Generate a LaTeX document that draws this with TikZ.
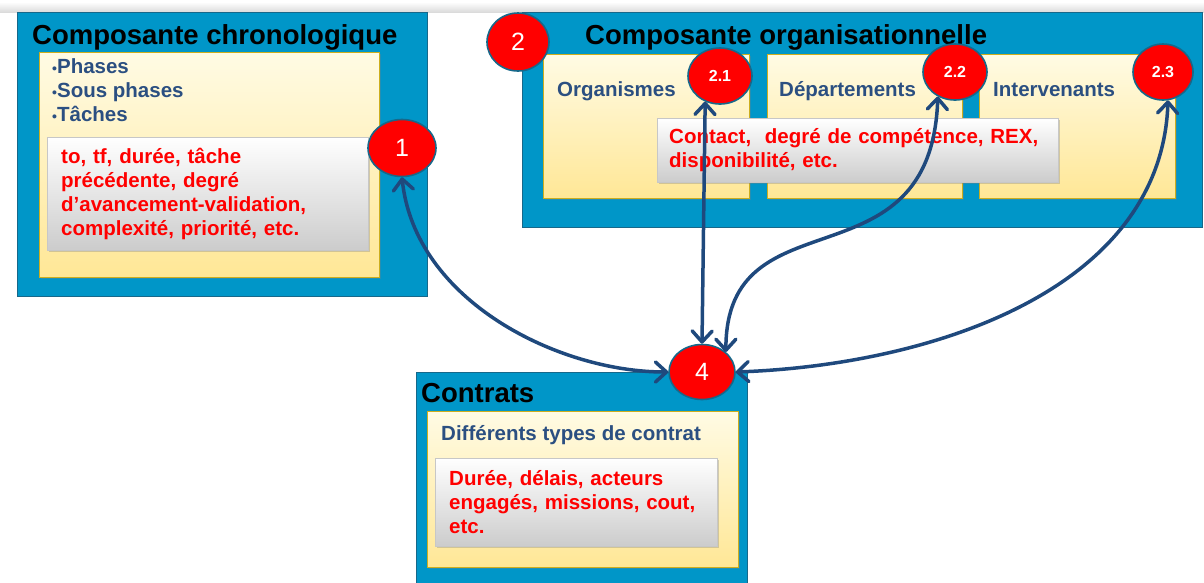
\documentclass[tikz,border=0pt]{standalone}
\usepackage{fontspec}
\setmainfont{Liberation Sans}
\usetikzlibrary{arrows.meta,shapes.geometric,shadows}
\definecolor{cPanel} {HTML}{0096C8}
\definecolor{cEdge}  {HTML}{17688A}
\definecolor{cCreamT}{HTML}{FFFBE4}
\definecolor{cCreamB}{HTML}{FFE796}
\definecolor{cGold}  {HTML}{CDAE1E}
\definecolor{cItem}  {HTML}{2B4F81}
\definecolor{cLink}  {HTML}{1F497D}
\definecolor{cAlert} {HTML}{FF0000}
\newcommand\txtfont{\fontsize{20.5}{24}\selectfont\bfseries}
\tikzset{
  panel/.style   ={draw=cEdge,fill=cPanel,line width=1.2pt,anchor=north west,inner sep=0pt},
  card/.style    ={draw=cGold,line width=1pt,top color=cCreamT,bottom color=cCreamB,
                   anchor=north west,inner sep=0pt,
                   drop shadow={shadow xshift=1.5pt,shadow yshift=-1.5pt,opacity=.3}},
  note/.style    ={draw=black!22,top color=white,bottom color=black!20,anchor=north west,
                   inner xsep=14pt,inner ysep=0pt,align=left,font=\txtfont,text=cAlert,
                   drop shadow={shadow xshift=2pt,shadow yshift=-2pt,opacity=.35}},
  badge/.style   ={ellipse,draw=cEdge,fill=cAlert,line width=1.6pt,text=white,inner sep=0pt,
                   font=\fontsize{25}{25}\selectfont},
  subbadge/.style={badge,font=\fontsize{16}{16}\selectfont\bfseries},
  ttl/.style     ={anchor=base west,inner sep=0pt,font=\fontsize{27.5}{30}\selectfont\bfseries},
  item/.style    ={anchor=base west,inner sep=0pt,font=\txtfont,text=cItem},
  link/.style    ={{Straight Barb[length=11pt,width=20pt,line width=3.5pt,round]}-%
                   {Straight Barb[length=11pt,width=20pt,line width=3.5pt,round]},
                   draw=cLink,line width=3.5pt},
}

\begin{document}
\begin{tikzpicture}[x=1pt, y=1pt]
\useasboundingbox (0,0) rectangle (1204,-582);
\shade[top color=white,bottom color=black!14] (0,-2) rectangle (1204,-12);

% ===== chronological component =============================================
\node[panel,minimum width=410pt,minimum height=284pt] (chrono) at (17,-12) {};
\node[ttl] (chronoT) at (32,-44) {Composante chronologique};
\node[card,minimum width=340pt,minimum height=225pt] (chronoC) at (39,-52) {};
\foreach \t [count=\i] in {Phases, Sous phases, Tâches}
  \node[item] (ph\i) at (52,{-73-24*(\i-1)}) {{\fontsize{14}{14}\selectfont•}\t};
\node[note,minimum width=321pt,minimum height=113pt,text width=293pt] (chronoN) at (47,-137)
  {to, tf, durée, tâche\\précédente, degré\\d’avancement-validation,\\complexité, priorité, etc.};
\node[badge,minimum width=68pt,minimum height=57pt] (c1) at (402,-148) {1};

% ===== organisational component ============================================
\node[panel,minimum width=680pt,minimum height=215pt] (orga) at (522,-12) {};
\node[ttl] (orgaT) at (585,-44) {Composante organisationnelle};
\node[card,minimum width=206pt,minimum height=144pt] (orgC1) at (543,-54) {};
\node[card,minimum width=195pt,minimum height=144pt] (orgC2) at (767,-54) {};
\node[card,minimum width=196pt,minimum height=144pt] (orgC3) at (979,-54) {};
\node[item] (org1) at (557,-96) {Organismes};
\node[item] (org2) at (779,-96) {Départements};
\node[item] (org3) at (993,-96) {Intervenants};
\node[note,inner xsep=12pt,minimum width=401pt,minimum height=64pt,text width=377pt] (orgaN) at (657,-118)
  {Contact,~ degré de compétence, REX,\\disponibilité, etc.};
\node[badge,minimum width=62pt,minimum height=58pt] (c2) at (518,-42) {2};
\node[subbadge,minimum width=64pt,minimum height=56pt] (c21) at (720,-76) {2.1};
\node[subbadge,minimum width=64pt,minimum height=56pt] (c22) at (955,-72) {2.2};
\node[subbadge,minimum width=60pt,minimum height=56pt] (c23) at (1163,-72) {2.3};

% ===== contracts ===========================================================
\node[panel,minimum width=331pt,minimum height=220pt] (contr) at (416,-372) {};
\node[ttl] (contrT) at (421,-402) {Contrats};
\node[card,minimum width=311pt,minimum height=156pt] (contrC) at (427,-411) {};
\node[item] (contrI) at (441,-440) {Différents types de contrat};
\node[note,minimum width=282pt,minimum height=88pt,text width=254pt] (contrN) at (435,-458)
  {Durée, délais, acteurs\\engagés, missions, cout,\\etc.};
\node[badge,minimum width=66pt,minimum height=55pt] (c4) at (702,-372) {4};

% ===== links to the contracts ==============================================
\draw[link] (c1.south) to[out=-84,in=180,out distance=124pt,in distance=110pt] (c4.west);
\draw[link] (c21.-120) -- (c4.north);
\draw[link] (c22.-125) to[out=-92,in=90,out distance=195pt,in distance=162pt] (c4.40);
\draw[link] (c23.-80) to[out=-92,in=2,out distance=190pt,in distance=195pt] (c4.east);
\end{tikzpicture}
\end{document}
